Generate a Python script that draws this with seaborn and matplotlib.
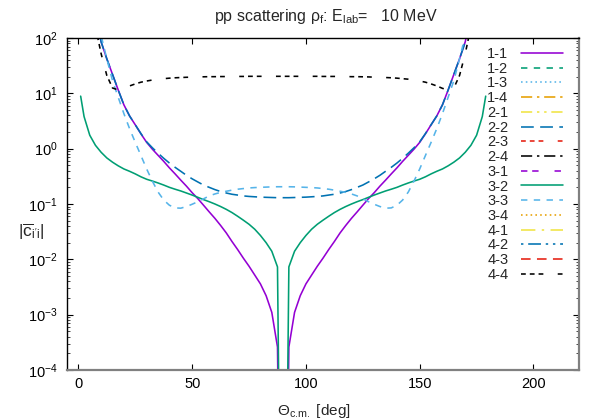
import matplotlib
matplotlib.use("Agg")
import matplotlib.pyplot as plt
import seaborn as sns
import numpy as np
import pandas as pd
from matplotlib.lines import Line2D
from matplotlib.ticker import FixedLocator, NullFormatter, LogFormatterSciNotation

# ---------------- data ----------------
theta = [1, 2.5, 5, 7.5, 10, 12.5, 15, 17.5, 20, 22.5, 25, 27.5, 30, 32.5, 35, 37.5,
         40, 42.5, 45, 47.5, 50, 52.5, 55, 57.5, 60, 62.5, 65, 67.5, 70, 72.5, 75, 77.5,
         80, 82.5, 85, 87.5, 90,
         92.5, 95, 97.5, 100, 102.5, 105, 107.5, 110, 112.5, 115, 117.5, 120, 122.5, 125,
         127.5, 130, 132.5, 135, 137.5, 140, 142.5, 145, 147.5, 150, 152.5, 155, 157.5,
         160, 162.5, 165, 167.5, 170, 172.5, 175, 177.5, 179]

c_1_1 = [1e6, 2e4, 1500, 260, 85, 42, 22, 11.5, 6.2, 3.9, 2.7, 1.85, 1.3, 0.98, 0.76, 0.59,
         0.45, 0.35, 0.27, 0.21, 0.16, 0.125, 0.095, 0.072, 0.055, 0.041, 0.03, 0.021,
         0.015, 0.0105, 0.0075, 0.0052, 0.0036, 0.0022, 0.0011, 0.00026, 1e-12,
         0.00026, 0.0011, 0.0022, 0.0036, 0.0052, 0.0075, 0.0105, 0.015, 0.021, 0.03, 0.041,
         0.055, 0.072, 0.095, 0.125, 0.16, 0.21, 0.27, 0.35, 0.45, 0.59, 0.76, 0.98, 1.3,
         1.85, 2.7, 3.9, 6.2, 11.5, 22, 42, 85, 260, 1500, 2e4, 1e6]

c_2_2 = [1e6, 2e4, 1500, 260, 85, 42, 22, 11.5, 6.2, 3.9, 2.7, 1.87, 1.33, 1.04, 0.83, 0.67,
         0.55, 0.46, 0.39, 0.33, 0.285, 0.25, 0.22, 0.2, 0.182, 0.168, 0.158, 0.15,
         0.145, 0.14, 0.137, 0.135, 0.133, 0.132, 0.131, 0.13, 0.13,
         0.13, 0.131, 0.132, 0.133, 0.135, 0.137, 0.14, 0.145, 0.15, 0.158, 0.168,
         0.182, 0.2, 0.22, 0.25, 0.285, 0.33, 0.39, 0.46, 0.55, 0.67, 0.83, 1.04, 1.33,
         1.87, 2.7, 3.9, 6.2, 11.5, 22, 42, 85, 260, 1500, 2e4, 1e6]

c_3_3 = [1e6, 1e5, 3000, 400, 110, 42, 17, 8.5, 4.3, 2.3, 1.3, 0.75, 0.43, 0.26, 0.165, 0.118,
         0.095, 0.085, 0.084, 0.09, 0.099, 0.11, 0.124, 0.14, 0.152, 0.162, 0.17, 0.178,
         0.185, 0.19, 0.195, 0.198, 0.2, 0.202, 0.204, 0.205, 0.205,
         0.205, 0.204, 0.202, 0.2, 0.198, 0.195, 0.19, 0.185, 0.178, 0.17, 0.162,
         0.152, 0.14, 0.124, 0.11, 0.099, 0.09, 0.084, 0.085, 0.095, 0.118, 0.165, 0.26, 0.43,
         0.75, 1.3, 2.3, 4.3, 8.5, 17, 42, 110, 400, 3000, 1e5, 1e6]

c_3_2 = [8.9, 3.8, 1.75, 1.15, 0.86, 0.68, 0.57, 0.49, 0.43, 0.39, 0.35, 0.31, 0.28, 0.26,
         0.24, 0.22, 0.2, 0.185, 0.172, 0.158, 0.145, 0.132, 0.12, 0.11, 0.1, 0.09, 0.08,
         0.07, 0.06, 0.051, 0.043, 0.035, 0.027, 0.02, 0.014, 0.0073, 1e-12,
         0.0073, 0.014, 0.02, 0.027, 0.035, 0.043, 0.051, 0.06, 0.07, 0.08, 0.09, 0.1,
         0.11, 0.12, 0.132, 0.145, 0.158, 0.172, 0.185, 0.2, 0.22, 0.24, 0.26, 0.28, 0.31,
         0.35, 0.39, 0.43, 0.49, 0.57, 0.68, 0.86, 1.15, 1.75, 3.8, 8.9]

c_4_4 = [1e5, 1e4, 1500, 160, 52, 21, 12.5, 11.5, 12.3, 13.6, 14.8, 15.9, 16.7, 17.4, 18.0,
         18.4, 18.8, 19.1, 19.3, 19.5, 19.6, 19.8, 19.9, 20.0, 20.0, 20.1, 20.1, 20.2,
         20.2, 20.2, 20.3, 20.3, 20.3, 20.3, 20.3, 20.3, 20.3,
         20.3, 20.3, 20.3, 20.3, 20.3, 20.3, 20.2, 20.2, 20.2, 20.1, 20.1, 20.0, 20.0,
         19.9, 19.8, 19.6, 19.5, 19.3, 19.1, 18.8, 18.4, 18.0, 17.4, 16.7, 15.9, 14.8,
         13.6, 12.3, 11.5, 12.5, 21, 52, 160, 1500, 1e4, 1e5]

legend_labels = ["1-1", "1-2", "1-3", "1-4", "2-1", "2-2", "2-3", "2-4",
                 "3-1", "3-2", "3-3", "3-4", "4-1", "4-2", "4-3", "4-4"]

title = r"pp scattering $\rho_{f}$: E$_{lab}$=   10 MeV"
xlabel = r"$\Theta_{c.\!m.}$ [deg]"
ylabel = r"$|\overline{c}_{i'i}|$"
xticks = [0, 50, 100, 150, 200]
yticks = [1e-4, 1e-3, 1e-2, 1e-1, 1e0, 1e1, 1e2]

# ---------------- styles ----------------
purple, green, lblue, orange = "#9400d3", "#009e73", "#56b4e9", "#e69f00"
yellow, blue, red, black = "#f0e442", "#0072b2", "#e51e10", "#000000"
styles = {
    "1-1": (purple, "-"),
    "1-2": (green, (0, (4, 4))),
    "1-3": (lblue, (0, (1, 2))),
    "1-4": (orange, (0, (7, 3, 1.5, 3))),
    "2-1": (yellow, (0, (7, 3, 1.5, 3, 1.5, 3))),
    "2-2": (blue, (0, (8, 4))),
    "2-3": (red, (0, (3, 2.5, 3, 2.5, 3, 9))),
    "2-4": (black, (0, (7, 3, 1.5, 3))),
    "3-1": (purple, (0, (4, 3, 4, 10))),
    "3-2": (green, "-"),
    "3-3": (lblue, (0, (4, 4))),
    "3-4": (orange, (0, (1, 2))),
    "4-1": (yellow, (0, (9, 4, 1.5, 4))),
    "4-2": (blue, (0, (1.5, 3, 8, 3, 1.5, 3))),
    "4-3": (red, (0, (6, 4))),
    "4-4": (black, (0, (3, 2.5, 3, 2.5, 3, 9))),
}

sns.set_theme(style="ticks")
plt.rcParams["font.family"] = ["Liberation Sans", "DejaVu Sans"]
plt.rcParams["mathtext.fontset"] = "custom"
plt.rcParams["mathtext.rm"] = "Liberation Sans"
plt.rcParams["mathtext.it"] = "Liberation Sans"
plt.rcParams["mathtext.default"] = "regular"
plt.rcParams["font.size"] = 10

fig = plt.figure(figsize=(6, 4.2), dpi=100)
ax = fig.add_axes([67 / 600, 1 - 370 / 420, (579 - 67) / 600, (370 - 38) / 420])

df = pd.DataFrame({"theta": theta, "1-1": c_1_1, "2-2": c_2_2, "3-2": c_3_2,
                   "3-3": c_3_3, "4-4": c_4_4})
lw = 1.15
for key in ["1-1", "2-2", "3-2", "3-3", "4-4"]:
    col, ls = styles[key]
    sns.lineplot(data=df, x="theta", y=key, ax=ax, color=col, linestyle=ls,
                 linewidth=lw, legend=False)

ax.set_yscale("log")
ax.set_xlim(-5, 220)
ax.set_ylim(1e-4, 1e2)
ax.set_xticks(xticks)
ax.set_xticklabels([str(t) for t in xticks])
minor = [m * 10.0 ** e for e in range(-4, 2) for m in range(2, 10)]
ax.yaxis.set_major_locator(FixedLocator(yticks))
ax.yaxis.set_major_formatter(LogFormatterSciNotation())
ax.yaxis.set_minor_locator(FixedLocator(minor))
ax.yaxis.set_minor_formatter(NullFormatter())
ax.tick_params(axis="both", which="major", direction="in", length=4, width=0.8,
               top=True, right=True, labelsize=10.5, colors="black")
ax.tick_params(axis="y", which="major", pad=7)
ax.tick_params(axis="x", which="major", pad=5)
ax.tick_params(axis="y", which="minor", direction="in", length=2.2, width=0.6,
               left=True, right=True)
ax.tick_params(axis="x", which="minor", bottom=False, top=False)
for side in ["left", "top"]:
    ax.spines[side].set_color("black")
    ax.spines[side].set_linewidth(1.0)
for side in ["bottom", "right"]:
    ax.spines[side].set_color("#808080")
    ax.spines[side].set_linewidth(1.6)

ax.set_xlabel(xlabel, fontsize=11)
ax.xaxis.set_label_coords((314 - 67) / 512, (370 - 402) / 332)
ax.set_ylabel("")
fig.text(31 / 600, 1 - 232 / 420, ylabel, ha="center", va="center", fontsize=12.5)
fig.text(326 / 600, 1 - 17 / 420, title, ha="center", va="center", fontsize=11.5)

handles = []
for lab in legend_labels:
    col, ls = styles[lab]
    handles.append(Line2D([], [], color=col, linestyle=ls, linewidth=lw))
leg = ax.legend(handles, legend_labels, loc="upper right",
                bbox_to_anchor=(563 / 600, 1 - 47 / 420), bbox_transform=fig.transFigure,
                frameon=False, markerfirst=False, handlelength=2.9, handletextpad=0.85,
                labelspacing=0.05, borderpad=0, borderaxespad=0, fontsize=10.5)

fig.savefig("out.png", dpi=100)
